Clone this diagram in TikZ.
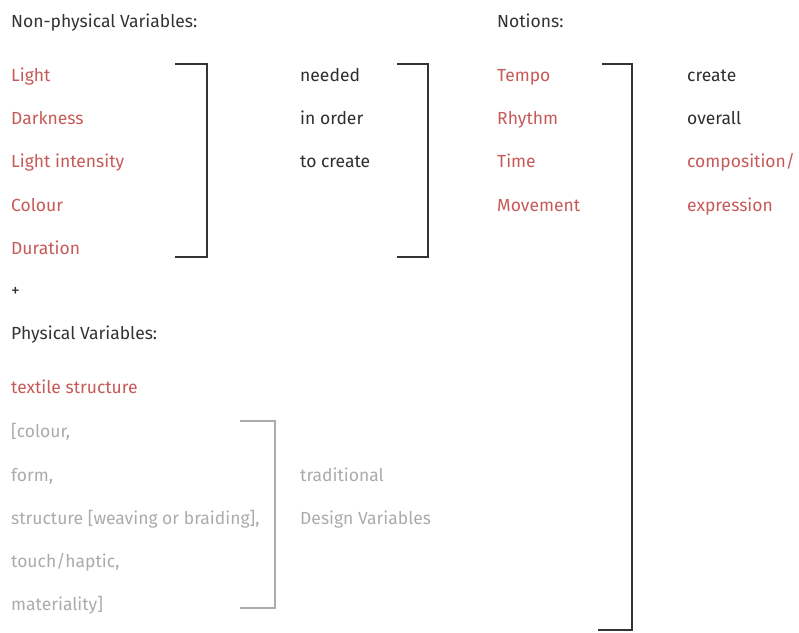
\documentclass[tikz,border=0pt]{standalone}
\usepackage{fontspec}
\setmainfont{Fira Sans}
\usetikzlibrary{positioning}
\definecolor{varHead}{HTML}{333333}
\definecolor{varText}{HTML}{2E2E2E}
\definecolor{varRed}{HTML}{C65A58}
\definecolor{varGrey}{HTML}{ABABAB}
\definecolor{varLine}{HTML}{333333}
\tikzset{
  varfig/.style={
    x=1pt, y=-1pt,
    every node/.append style={font=\fontsize{17.5}{19}\selectfont, inner sep=0pt, anchor=base west},
  },
  headlabel/.style={text=varHead},
  plainlabel/.style={text=varText},
  redlabel/.style={text=varRed},
  greylabel/.style={text=varGrey},
  bracket/.style={draw=varLine, line width=1.8pt},
  greybracket/.style={bracket, draw=varGrey},
}
\begin{document}
\begin{tikzpicture}[varfig]
  \useasboundingbox (0,0) rectangle (799,632);
  % Kopfzeilen
  \node[headlabel] (NonPhysHead) at (11,27) {Non-physical Variables:};
  \node[headlabel] (NotionsHead) at (497,27) {Notions:};
  % nicht-physische Variablen
  \node[redlabel] (Light) at (11,81) {Light};
  \node[redlabel] (Darkness) at (11,124) {Darkness};
  \node[redlabel] (LightIntensity) at (11,167) {Light intensity};
  \node[redlabel] (Colour) at (11,211) {Colour};
  \node[redlabel] (Duration) at (11,254) {Duration};
  \node[plainlabel] (Needed) at (300,81) {needed};
  \node[plainlabel] (InOrder) at (300,124) {in order};
  \node[plainlabel] (ToCreate) at (300,167) {to create};
  \node[redlabel] (Tempo) at (497,81) {Tempo};
  \node[redlabel] (Rhythm) at (497,124) {Rhythm};
  \node[redlabel] (Time) at (497,167) {Time};
  \node[redlabel] (Movement) at (497,211) {Movement};
  \node[plainlabel] (Create) at (687,81) {create};
  \node[plainlabel] (Overall) at (687,124) {overall};
  \node[redlabel] (Composition) at (687,167) {composition/};
  \node[redlabel] (Expression) at (687,211) {expression};
  % physische Variablen
  \node[plainlabel] (Plus) at (11,296) {+};
  \node[headlabel] (PhysHead) at (11,339) {Physical Variables:};
  \node[redlabel] (Textile) at (11,393) {textile structure};
  \node[greylabel] (PColour) at (11,437) {[colour,};
  \node[greylabel] (PForm) at (11,481) {form,};
  \node[greylabel] (PStructure) at (11,524) {structure [weaving or braiding],};
  \node[greylabel] (PTouch) at (11,567) {touch/haptic,};
  \node[greylabel] (PMaterial) at (11,610) {materiality]};
  \node[greylabel] (Traditional) at (300,481) {traditional};
  \node[greylabel] (DesignVars) at (300,524) {Design Variables};
  % Klammern
  \coordinate (BrA1) at (175,64);  \coordinate (BrA2) at (207,64);
  \coordinate (BrA3) at (207,257); \coordinate (BrA4) at (175,257);
  \coordinate (BrB1) at (397,64);  \coordinate (BrB2) at (428,64);
  \coordinate (BrB3) at (428,257); \coordinate (BrB4) at (397,257);
  \coordinate (BrC1) at (602,64);  \coordinate (BrC2) at (632,64);
  \coordinate (BrC3) at (632,630); \coordinate (BrC4) at (598,630);
  \coordinate (BrD1) at (240,421); \coordinate (BrD2) at (275,421);
  \coordinate (BrD3) at (275,608); \coordinate (BrD4) at (240,608);
  \draw[bracket] (BrA1) -- (BrA2) -- (BrA3) -- (BrA4);
  \draw[bracket] (BrB1) -- (BrB2) -- (BrB3) -- (BrB4);
  \draw[bracket] (BrC1) -- (BrC2) -- (BrC3) -- (BrC4);
  \draw[greybracket] (BrD1) -- (BrD2) -- (BrD3) -- (BrD4);
\end{tikzpicture}
\end{document}
